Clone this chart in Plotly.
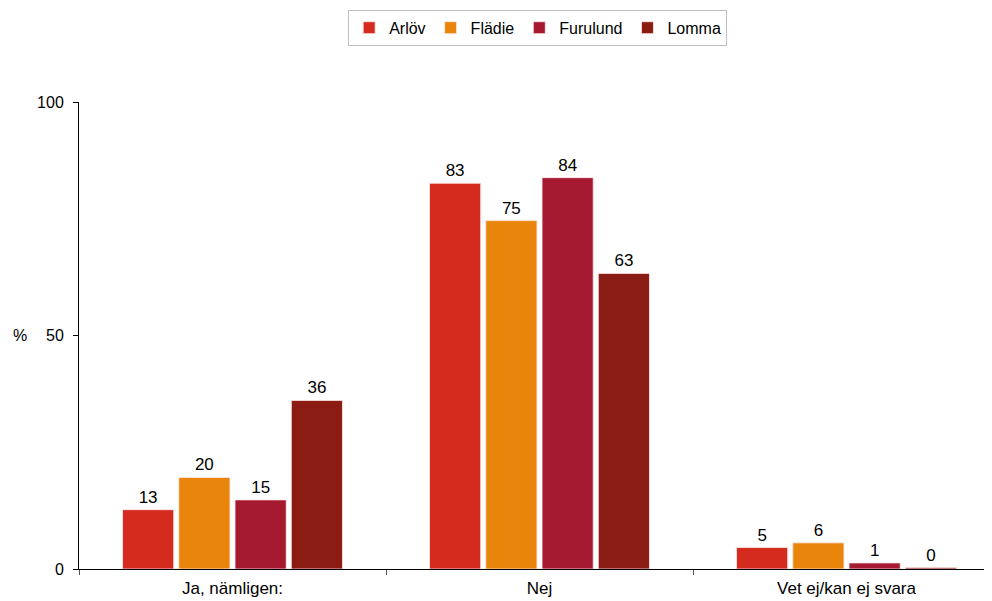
import plotly.graph_objects as go

categories = ["Ja, nämligen:", "Nej", "Vet ej/kan ej svara"]
series_names = ["Arlöv", "Flädie", "Furulund", "Lomma"]
arlov = [12.7, 82.6, 4.6]
fladie = [19.6, 74.6, 5.6]
furulund = [14.8, 83.8, 1.3]
lomma = [36.1, 63.3, 0.3]
y_ticks = [0, 50, 100]

colors = ["#D52B1E", "#E8850A", "#A51931", "#8B1C14"]
values = [arlov, fladie, furulund, lomma]

fig = go.Figure()
for name, vals, col in zip(series_names, values, colors):
    fig.add_trace(go.Bar(
        name=name, x=categories, y=vals,
        marker=dict(color=col, line=dict(color="rgba(255,235,235,0.8)", width=1)),
        texttemplate="%{y:.0f}", textposition="outside",
        textfont=dict(family="Liberation Sans, Arial", size=17, color="#000"),
        cliponaxis=False,
    ))

fig.update_layout(
    width=992, height=601,
    margin=dict(l=71, r=0, t=94, b=40),
    paper_bgcolor="white", plot_bgcolor="white",
    barmode="group", bargap=0.267, bargroupgap=0.09,
    font=dict(family="Liberation Sans, Arial", size=16, color="#000"),
    showlegend=True,
    legend=dict(orientation="h", xref="paper", x=0.498, xanchor="center",
                yref="container", y=0.997, yanchor="top",
                bordercolor="#BFBFBF", borderwidth=1,
                font=dict(size=16), itemwidth=30, tracegroupgap=0),
    xaxis=dict(type="category", range=[-0.5, 2.5], showline=True, linecolor="#000",
               linewidth=1, ticks="outside", tickson="boundaries", ticklen=5,
               tickcolor="#555", showgrid=False, zeroline=False,
               tickfont=dict(size=17), ticklabelstandoff=4),
    yaxis=dict(range=[0, 100], tickvals=y_ticks, showline=True, linecolor="#000",
               linewidth=1, ticks="outside", ticklen=5, tickcolor="#000",
               showgrid=False, zeroline=False, tickfont=dict(size=16),
               ticklabelstandoff=6),
    annotations=[dict(text="%", xref="paper", yref="paper", x=-0.074, y=0.5,
                      xanchor="left", yanchor="middle", showarrow=False,
                      font=dict(size=16))],
)

fig.write_html("out.html")
